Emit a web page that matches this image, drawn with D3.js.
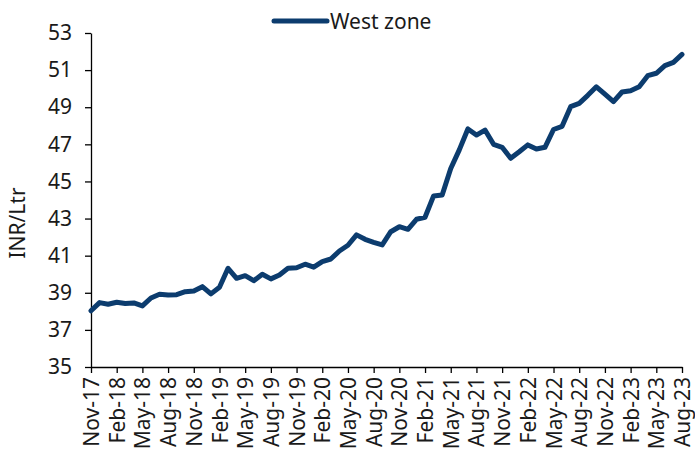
<!DOCTYPE html>
<html>
<head>
<meta charset="utf-8">
<script src="https://cdn.jsdelivr.net/npm/d3@7"></script>
<style>
    body { margin: 0; background: #fff; }
    svg { display: block; font-family: "Noto Sans", sans-serif; }
</style>
</head>
<body>
<svg id="chart"></svg>
<script>
var startMonth = new Date(2017, 10, 1);
var endMonth = new Date(2023, 8, 1);
var seriesName = 'West zone';
var axisTitle = 'INR/Ltr';

var westZone = [
    38.03, 38.47, 38.38, 38.49, 38.42, 38.45, 38.29, 38.72, 38.92, 38.88,
    38.90, 39.06, 39.10, 39.33, 38.94, 39.30, 40.32, 39.78, 39.92, 39.65,
    40.00, 39.75, 39.96, 40.32, 40.35, 40.54, 40.38, 40.68, 40.82, 41.25,
    41.56, 42.12, 41.88, 41.72, 41.58, 42.29, 42.56, 42.42, 42.96, 43.07,
    44.22, 44.27, 45.70, 46.70, 47.83, 47.50, 47.77, 47.00, 46.84, 46.25,
    46.60, 46.97, 46.75, 46.84, 47.80, 47.97, 49.03, 49.21, 49.64, 50.10,
    49.70, 49.30, 49.82, 49.89, 50.10, 50.70, 50.83, 51.24, 51.42, 51.85
];

var tickLabels = [
    'Nov-17', 'Feb-18', 'May-18', 'Aug-18', 'Nov-18', 'Feb-19', 'May-19', 'Aug-19',
    'Nov-19', 'Feb-20', 'May-20', 'Aug-20', 'Nov-20', 'Feb-21', 'May-21', 'Aug-21',
    'Nov-21', 'Feb-22', 'May-22', 'Aug-22', 'Nov-22', 'Feb-23', 'May-23', 'Aug-23'
];

var yTicks = [35, 37, 39, 41, 43, 45, 47, 49, 51, 53];

(function () {
    'use strict';

    var width = 695;
    var height = 456;
    var lineColor = '#0c3c6e';
    var textColor = '#1a1a1a';
    var fontSize = 21;

    var monthLabels = d3.timeMonth.range(startMonth, endMonth).map(d3.timeFormat('%b-%y'));
    var data = westZone.map(function (v, i) {
        return { month: monthLabels[i], value: v };
    });

    var svg = d3.select('#chart')
        .attr('width', width)
        .attr('height', height);

    var x = d3.scalePoint()
        .domain(monthLabels)
        .range([91, 682]);

    var y = d3.scaleLinear()
        .domain([35, 53])
        .range([367, 33]);

    var yAxis = svg.append('g')
        .attr('transform', 'translate(' + x.range()[0] + ',0)')
        .call(d3.axisLeft(y).tickValues(yTicks).tickSize(6).tickPadding(13).tickSizeOuter(0));

    var xAxis = svg.append('g')
        .attr('transform', 'translate(0,' + y.range()[0] + ')')
        .call(d3.axisBottom(x).tickValues(tickLabels).tickSize(6).tickSizeOuter(0));

    [yAxis, xAxis].forEach(function (g) {
        g.select('.domain').attr('stroke', '#000').attr('stroke-width', 1.3);
        g.selectAll('.tick line').attr('stroke', '#000').attr('stroke-width', 1.3);
        g.selectAll('.tick text')
            .attr('fill', textColor)
            .style('font-family', '"Noto Sans", sans-serif')
            .style('font-size', fontSize + 'px');
    });

    xAxis.selectAll('.tick text')
        .attr('transform', 'rotate(-90)')
        .attr('text-anchor', 'end')
        .attr('x', -10)
        .attr('y', 0)
        .attr('dy', '0.36em');

    svg.append('text')
        .attr('transform', 'translate(25,' + ((y.range()[0] + y.range()[1]) / 2 + 23) + ') rotate(-90)')
        .attr('text-anchor', 'middle')
        .attr('fill', textColor)
        .style('font-size', fontSize + 'px')
        .text(axisTitle);

    var line = d3.line()
        .x(function (d) { return x(d.month); })
        .y(function (d) { return y(d.value); });

    svg.append('path')
        .datum(data)
        .attr('d', line)
        .attr('fill', 'none')
        .attr('stroke', lineColor)
        .attr('stroke-width', 5)
        .attr('stroke-linejoin', 'round')
        .attr('stroke-linecap', 'round');

    var legend = svg.append('g')
        .attr('transform', 'translate(274,21)');

    legend.append('line')
        .attr('x1', 0)
        .attr('x2', 53)
        .attr('stroke', lineColor)
        .attr('stroke-width', 5)
        .attr('stroke-linecap', 'round');

    legend.append('text')
        .attr('x', 56)
        .attr('dy', '0.36em')
        .attr('fill', textColor)
        .style('font-size', fontSize + 'px')
        .text(seriesName);
})();
</script>
</body>
</html>
